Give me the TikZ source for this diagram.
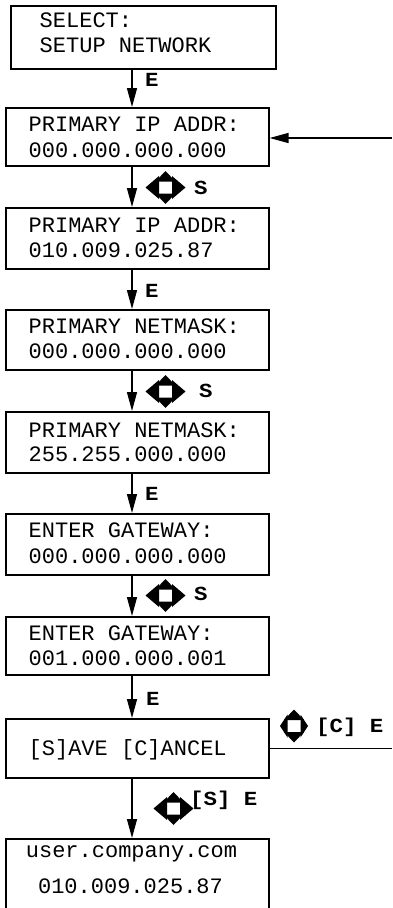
\documentclass[tikz,border=0pt]{standalone}
\usepackage{fontspec}
\setmonofont{Liberation Mono}
\newfontfamily\lblfont{Liberation Mono}[FakeStretch=1.12]
\usetikzlibrary{arrows.meta}
\newcommand\padicon[3]{%
  \begin{scope}[shift={(#1,#2)}]
    \fill (0,-16.5) -- (-10,-6) -- (10,-6) -- cycle;
    \fill (0,16.5) -- (-10,6) -- (10,6) -- cycle;
    \fill (-#3,0) -- (-6.5,-11.5) -- (-6.5,11.5) -- cycle;
    \fill (#3,0) -- (6.5,-11.5) -- (6.5,11.5) -- cycle;
  \end{scope}}
\begin{document}
\begin{tikzpicture}[x=1pt,y=-1pt,
  box/.style={draw, line width=1.6pt, inner sep=0pt, anchor=north west, minimum width=263pt},
  txt/.style={font=\fontsize{22}{25}\selectfont\ttfamily, inner sep=0pt, anchor=base west},
  lbl/.style={font=\fontsize{20}{22}\selectfont\lblfont\bfseries, inner sep=0pt, anchor=base west},
  arr/.style={line width=1.4pt, -{Triangle[length=19pt,width=10pt]}},
  plain/.style={line width=1.4pt}]
\useasboundingbox (0,0) rectangle (392,908);
% boxes
\node[box, minimum width=265pt, minimum height=63pt] (b1) at (10,5) {};
\node[box, minimum height=58pt] (b2) at (5,107) {};
\node[box, minimum height=61pt] (b3) at (5,207) {};
\node[box, minimum height=60pt] (b4) at (5,309) {};
\node[box, minimum height=61pt] (b5) at (5,411) {};
\node[box, minimum height=61pt] (b6) at (5,513) {};
\node[box, minimum height=58pt] (b7) at (5,616) {};
\node[box, minimum height=59pt] (b8) at (5,718) {};
\node[box, minimum height=76pt] (b9) at (5,838) {};
% texts
\node[txt] (t1a) at (39.5,27) {SELECT:};
\node[txt] (t1b) at (39.5,52) {SETUP NETWORK};
\node[txt] (t2a) at (28.5,131) {PRIMARY IP ADDR:};
\node[txt] (t2b) at (28.5,157) {000.000.000.000};
\node[txt] (t3a) at (28.5,232) {PRIMARY IP ADDR:};
\node[txt] (t3b) at (28.5,257) {010.009.025.87};
\node[txt] (t4a) at (28.5,333) {PRIMARY NETMASK:};
\node[txt] (t4b) at (28.5,358) {000.000.000.000};
\node[txt] (t5a) at (28.5,437) {PRIMARY NETMASK:};
\node[txt] (t5b) at (28.5,461) {255.255.000.000};
\node[txt] (t6a) at (28.5,537) {ENTER GATEWAY:};
\node[txt] (t6b) at (28.5,563) {000.000.000.000};
\node[txt] (t7a) at (28.5,640) {ENTER GATEWAY:};
\node[txt] (t7b) at (28.5,665) {001.000.000.001};
\node[txt] (t8) at (28.5,755) {[S]AVE [C]ANCEL};
\node[txt, anchor=base] (t9a) at (131.5,857) {user.company.com};
\node[txt, anchor=base] (t9b) at (130.5,893) {010.009.025.87};
% connectors
\coordinate (ax) at (132,0);
\draw[arr] (b1.south -| ax) -- (b2.north -| ax);
\draw[arr] (b2.south -| ax) -- (b3.north -| ax);
\draw[arr] (b3.south -| ax) -- (b4.north -| ax);
\draw[arr] (b4.south -| ax) -- (b5.north -| ax);
\draw[arr] (b5.south -| ax) -- (b6.north -| ax);
\draw[arr] (b6.south -| ax) -- (b7.north -| ax);
\draw[arr] (b7.south -| ax) -- (b8.north -| ax);
\draw[arr] (b8.south -| ax) -- (b9.north -| ax);
\coordinate (r1) at (392,138);
\draw[arr] (r1) -- (b2.east |- r1);
\coordinate (r2) at (392,0);
\draw[plain] (b8.east) -- (b8.east -| r2);
% labels
\node[lbl] (e1) at (145,86) {E};
\node[lbl] (s1) at (194,194) {S};
\node[lbl] (e2) at (145,297) {E};
\node[lbl] (s2) at (199,397) {S};
\node[lbl] (e3) at (145,500) {E};
\node[lbl] (s3) at (194,600) {S};
\node[lbl] (e4) at (146,705) {E};
\node[lbl] (se) at (190,805) {[S] E};
\node[lbl] (ce) at (316,732) {[C] E};
% key icons
\padicon{165.5}{187.5}{20}
\padicon{165.5}{391.5}{20}
\padicon{165.5}{595.5}{20}
\padicon{173.5}{808.5}{20}
\padicon{294}{726}{14}
\end{tikzpicture}
\end{document}
